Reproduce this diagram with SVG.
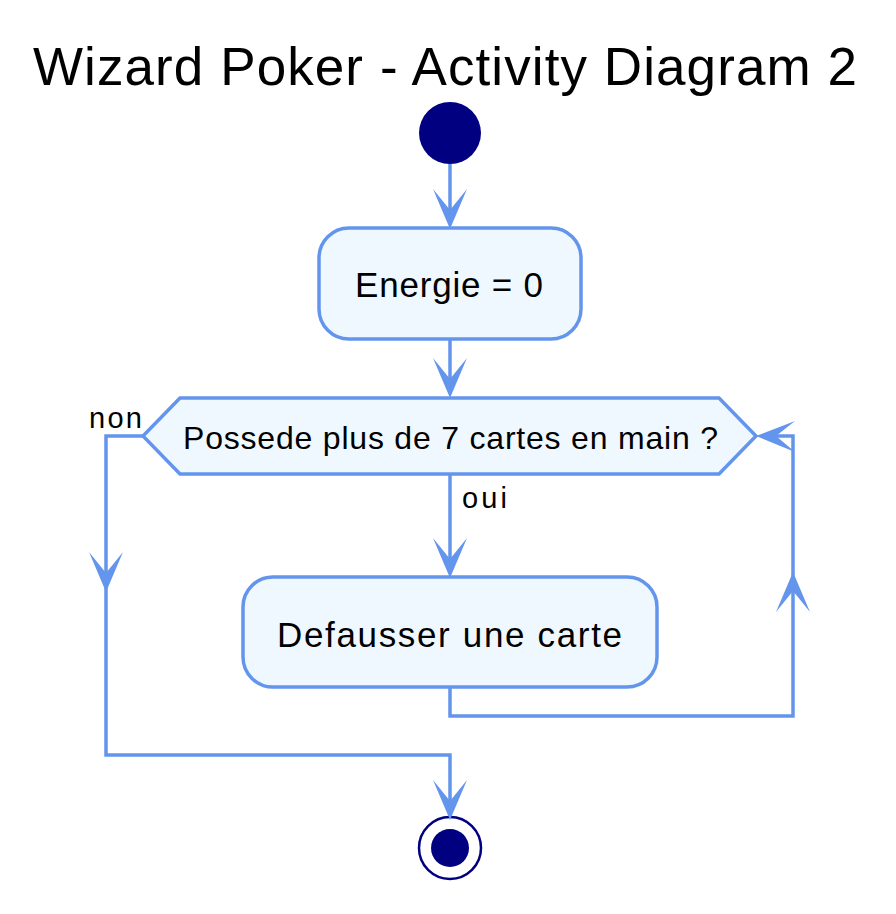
<svg xmlns="http://www.w3.org/2000/svg" width="896" height="914" viewBox="0 0 896 914">
<style>
.node{fill:#F0F8FF;stroke:#6495ED;stroke-width:3.5}
.edge{fill:none;stroke:#6495ED;stroke-width:3.5}
.head{fill:#6495ED;stroke:none}
.t{font-family:"Liberation Sans",Arial,sans-serif;fill:#000}
</style>
<rect width="896" height="914" fill="#FFFFFF"/>
<text class="t" x="33" y="85" font-size="53" textLength="824">Wizard Poker - Activity Diagram 2</text>
<g id="start"><circle cx="450" cy="133" r="31" fill="#000080"/></g>
<g id="energie">
<rect class="node" x="319" y="228" width="262" height="111" rx="30" ry="30"/>
<text class="t" x="355" y="297" font-size="35" textLength="188">Energie = 0</text>
</g>
<g id="decision">
<polygon class="node" points="143,436 180,398 719,398 756,436 719,474 180,474"/>
<text class="t" x="183" y="449" font-size="32" textLength="535">Possede plus de 7 cartes en main ?</text>
</g>
<g id="defausser">
<rect class="node" x="243" y="577" width="414" height="110" rx="30" ry="30"/>
<text class="t" x="277" y="647" font-size="35" textLength="345">Defausser une carte</text>
</g>
<g id="end">
<circle cx="450" cy="848" r="31" fill="#FFFFFF" stroke="#000080" stroke-width="2.5"/>
<circle cx="450" cy="848" r="19" fill="#000080"/>
</g>
<g id="connectors">
<path class="edge" d="M450,164 V215"/>
<polygon class="head" points="450,229 433,189 450,210 467,189"/>
<path class="edge" d="M450,339 V385"/>
<polygon class="head" points="450,398 433,358 450,379 467,358"/>
<path class="edge" d="M450,474 V565"/>
<polygon class="head" points="450,578 433,538 450,559 467,538"/>
<text class="t" x="462" y="508" font-size="29" textLength="45">oui</text>
<path class="edge" d="M143,436 H106 V755 H450 V808"/>
<polygon class="head" points="106,592 89,552 106,573 123,552"/>
<text class="t" x="89" y="428" font-size="29" textLength="53">non</text>
<path class="edge" d="M450,687 V716 H793 V436 H768"/>
<polygon class="head" points="793,572 776,612 793,591 810,612"/>
<polygon class="head" points="756,436 795,421 776,436 795,452"/>
<polygon class="head" points="450,820 433,780 450,801 467,780"/>
</g>
</svg>
